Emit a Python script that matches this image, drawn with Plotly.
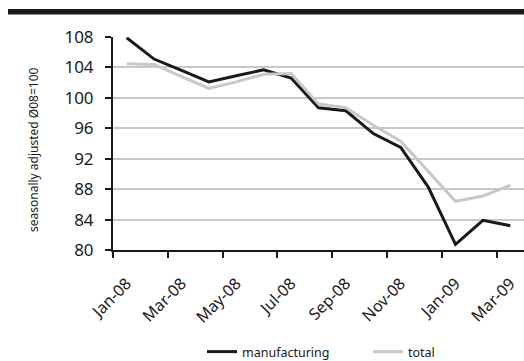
import plotly.graph_objects as go

# Monthly index, seasonally adjusted (2008 = 100)
months = ["Jan-08", "Feb-08", "Mar-08", "Apr-08", "May-08", "Jun-08", "Jul-08",
          "Aug-08", "Sep-08", "Oct-08", "Nov-08", "Dec-08", "Jan-09", "Feb-09", "Mar-09"]
manufacturing = [107.9, 105.1, 103.6, 102.1, 102.9, 103.7, 102.6,
                 98.7, 98.3, 95.3, 93.5, 88.3, 80.75, 83.9, 83.2]
total = [104.5, 104.4, 102.8, 101.25, 102.1, 103.1, 103.2,
         99.2, 98.7, 96.4, 94.3, 90.3, 86.4, 87.1, 88.5]
y_ticks = [80, 84, 88, 92, 96, 100, 104, 108]

W, H = 524, 361
ML, MR, MT, MB = 113, 0, 37, 111
FONT = "Noto Sans"

x = list(range(len(months)))

fig = go.Figure()
fig.add_trace(go.Scatter(x=x, y=manufacturing, name="manufacturing", mode="lines",
                         line=dict(color="#1a1a1a", width=3), legend="legend"))
fig.add_trace(go.Scatter(x=x, y=total, name="total", mode="lines",
                         line=dict(color="#c8c8c8", width=3), legend="legend2"))

# pixel -> paper helpers for placing layout items
pw, ph = W - ML - MR, H - MT - MB
def px_x(p):
    return (p - ML) / pw
def px_y(p):
    return (H - MB - p) / ph

# thick rule across the top of the figure
fig.add_shape(type="rect", xref="paper", yref="paper",
              x0=px_x(8), x1=px_x(W + 2), y0=px_y(14.5), y1=px_y(9),
              fillcolor="#1a1a1a", line=dict(width=0), layer="above")

# y-axis caption
fig.add_annotation(text="seasonally adjusted Ø08=100", textangle=-90,
                   xref="paper", yref="paper", x=px_x(33), y=px_y(150),
                   xanchor="center", yanchor="middle", showarrow=False,
                   font=dict(size=12, family=FONT, color="#1a1a1a"))

legend_style = dict(orientation="h", xanchor="left", yanchor="middle",
                    font=dict(size=12.5, family=FONT), itemwidth=30,
                    bgcolor="rgba(0,0,0,0)", borderwidth=0)

fig.update_layout(
    width=W, height=H,
    margin=dict(l=ML, r=MR, t=MT, b=MB, autoexpand=False),
    paper_bgcolor="white", plot_bgcolor="white",
    font=dict(family=FONT, color="#1a1a1a"),
    showlegend=True,
    legend=dict(x=px_x(202), y=px_y(352), **legend_style),
    legend2=dict(x=px_x(368), y=px_y(352), **legend_style),
    xaxis=dict(
        range=[-0.5, len(months) - 0.5],
        tickmode="array", tickvals=x[::2], ticktext=months[::2],
        tickangle=-45, ticks="", showgrid=False, zeroline=False,
        showline=True, linecolor="#1a1a1a", linewidth=2,
        tickfont=dict(size=16, family=FONT),
        ticklabelstandoff=16, automargin=False,
        minor=dict(tickmode="array",
                   tickvals=[i - 0.5 for i in x[::2]],
                   ticks="outside", ticklen=6, tickwidth=2,
                   tickcolor="#1a1a1a", showgrid=False),
        fixedrange=True,
    ),
    yaxis=dict(
        range=[80, 108], tickmode="array", tickvals=y_ticks,
        ticks="outside", ticklen=6, tickwidth=2, tickcolor="#1a1a1a",
        showgrid=True, gridcolor="#c8c8c8", gridwidth=2, zeroline=False,
        showline=True, linecolor="#1a1a1a", linewidth=2,
        tickfont=dict(size=17, family=FONT), automargin=False,
        ticklabelstandoff=8,
        fixedrange=True,
    ),
)

fig.write_html("out.html")
